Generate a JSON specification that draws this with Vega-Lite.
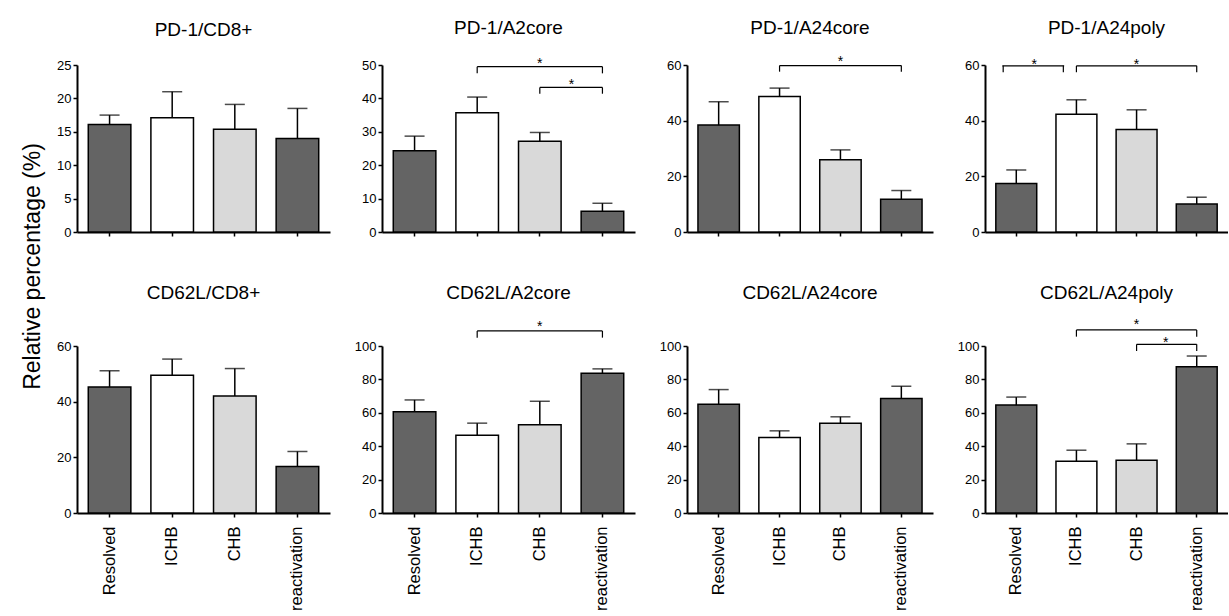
{
  "$schema": "https://vega.github.io/schema/vega-lite/v6.json",
  "autosize": {"type": "pad"},
  "padding": {"left": 20, "top": 18, "right": 0, "bottom": 0},
  "background": "white",
  "datasets": {
    "bars": [
      {"panel": "PD-1/CD8+", "group": "Resolved", "value": 16.1, "upper": 17.5},
      {"panel": "PD-1/CD8+", "group": "ICHB", "value": 17.1, "upper": 21.0},
      {"panel": "PD-1/CD8+", "group": "CHB", "value": 15.4, "upper": 19.1},
      {"panel": "PD-1/CD8+", "group": "reactivation", "value": 14.0, "upper": 18.5},
      {"panel": "PD-1/A2core", "group": "Resolved", "value": 24.3, "upper": 28.7},
      {"panel": "PD-1/A2core", "group": "ICHB", "value": 35.7, "upper": 40.4},
      {"panel": "PD-1/A2core", "group": "CHB", "value": 27.2, "upper": 29.8},
      {"panel": "PD-1/A2core", "group": "reactivation", "value": 6.2, "upper": 8.6},
      {"panel": "PD-1/A24core", "group": "Resolved", "value": 38.4, "upper": 46.8},
      {"panel": "PD-1/A24core", "group": "ICHB", "value": 48.7, "upper": 51.7},
      {"panel": "PD-1/A24core", "group": "CHB", "value": 26.0, "upper": 29.5},
      {"panel": "PD-1/A24core", "group": "reactivation", "value": 11.8, "upper": 14.9},
      {"panel": "PD-1/A24poly", "group": "Resolved", "value": 17.4, "upper": 22.3},
      {"panel": "PD-1/A24poly", "group": "ICHB", "value": 42.3, "upper": 47.5},
      {"panel": "PD-1/A24poly", "group": "CHB", "value": 36.8, "upper": 43.9},
      {"panel": "PD-1/A24poly", "group": "reactivation", "value": 10.1, "upper": 12.5},
      {"panel": "CD62L/CD8+", "group": "Resolved", "value": 45.3, "upper": 51.1},
      {"panel": "CD62L/CD8+", "group": "ICHB", "value": 49.5, "upper": 55.3},
      {"panel": "CD62L/CD8+", "group": "CHB", "value": 42.0, "upper": 51.9},
      {"panel": "CD62L/CD8+", "group": "reactivation", "value": 16.7, "upper": 22.1},
      {"panel": "CD62L/A2core", "group": "Resolved", "value": 60.6, "upper": 67.7},
      {"panel": "CD62L/A2core", "group": "ICHB", "value": 46.6, "upper": 53.8},
      {"panel": "CD62L/A2core", "group": "CHB", "value": 52.8, "upper": 66.9},
      {"panel": "CD62L/A2core", "group": "reactivation", "value": 83.7, "upper": 86.3},
      {"panel": "CD62L/A24core", "group": "Resolved", "value": 65.1, "upper": 73.9},
      {"panel": "CD62L/A24core", "group": "ICHB", "value": 45.2, "upper": 49.2},
      {"panel": "CD62L/A24core", "group": "CHB", "value": 53.8, "upper": 57.6},
      {"panel": "CD62L/A24core", "group": "reactivation", "value": 68.5, "upper": 75.9},
      {"panel": "CD62L/A24poly", "group": "Resolved", "value": 64.6, "upper": 69.4},
      {"panel": "CD62L/A24poly", "group": "ICHB", "value": 31.0, "upper": 37.6},
      {"panel": "CD62L/A24poly", "group": "CHB", "value": 31.6, "upper": 41.4},
      {"panel": "CD62L/A24poly", "group": "reactivation", "value": 87.6, "upper": 94.0}
    ],
    "brackets": [
      {"panel": "PD-1/A2core", "from": "ICHB", "to": "reactivation", "y": 49.5, "ylo": 47.5},
      {"panel": "PD-1/A2core", "from": "CHB", "to": "reactivation", "y": 43.3, "ylo": 41.4},
      {"panel": "PD-1/A24core", "from": "ICHB", "to": "reactivation", "y": 59.8, "ylo": 57.6},
      {"panel": "PD-1/A24poly", "from": "Resolved", "to": "ICHB", "y": 59.7, "ylo": 57.4},
      {"panel": "PD-1/A24poly", "from": "ICHB", "to": "reactivation", "y": 59.7, "ylo": 57.4},
      {"panel": "CD62L/A2core", "from": "ICHB", "to": "reactivation", "y": 109, "ylo": 105},
      {"panel": "CD62L/A24poly", "from": "ICHB", "to": "reactivation", "y": 109.6, "ylo": 105.6},
      {"panel": "CD62L/A24poly", "from": "CHB", "to": "reactivation", "y": 101, "ylo": 97}
    ],
    "stars": [
      {"panel": "PD-1/A2core", "at": "CHB", "y": 51.5, "pos": "c"},
      {"panel": "PD-1/A2core", "at": "reactivation", "y": 45.2, "pos": "l"},
      {"panel": "PD-1/A24core", "at": "CHB", "y": 62.4, "pos": "c"},
      {"panel": "PD-1/A24poly", "at": "Resolved", "y": 61.5, "pos": "r"},
      {"panel": "PD-1/A24poly", "at": "CHB", "y": 61.5, "pos": "c"},
      {"panel": "CD62L/A2core", "at": "CHB", "y": 113.6, "pos": "c"},
      {"panel": "CD62L/A24poly", "at": "CHB", "y": 115, "pos": "c"},
      {"panel": "CD62L/A24poly", "at": "reactivation", "y": 104.4, "pos": "l"}
    ]
  },
  "bounds": "flush",
  "align": "each",
  "columns": 4,
  "spacing": {"row": 114, "column": 52},
  "concat": [
    {
      "width": 253, "height": 167,
      "title": {"text": "PD-1/CD8+", "offset": 19},
      "layer": [
        {"data": {"name": "bars"}, "transform": [{"filter": {"field": "panel", "equal": "PD-1/CD8+"}}],
         "mark": {"type": "bar", "stroke": "#000", "strokeWidth": 1.5},
         "encoding": {
           "x": {"field": "group", "type": "nominal", "scale": {"domain": ["Resolved", "ICHB", "CHB", "reactivation"], "paddingInner": 0.32, "paddingOuter": 0.18}, "axis": {"labels": false, "title": null}},
           "y": {"field": "value", "type": "quantitative", "scale": {"domain": [0, 25], "nice": false}, "axis": {"values": [0, 5, 10, 15, 20, 25], "tickCount": 20, "labelOverlap": false, "title": "Relative percentage (%)", "titleY": 201, "titleX": -33, "titleFontSize": 23, "titleFontWeight": "normal", "titleAlign": "center", "titleBaseline": "bottom", "titleAngle": 270}},
           "fill": {"field": "group", "type": "nominal", "scale": {"domain": ["Resolved", "ICHB", "CHB", "reactivation"], "range": ["#646464", "#ffffff", "#d9d9d9", "#646464"]}, "legend": null}
         }},
        {"data": {"name": "bars"}, "transform": [{"filter": {"field": "panel", "equal": "PD-1/CD8+"}}],
         "mark": {"type": "rule", "color": "#000", "strokeWidth": 1.5},
         "encoding": {"x": {"field": "group", "type": "nominal"}, "y": {"field": "value", "type": "quantitative"}, "y2": {"field": "upper"}}},
        {"data": {"name": "bars"}, "transform": [{"filter": {"field": "panel", "equal": "PD-1/CD8+"}}],
         "mark": {"type": "tick", "orient": "horizontal", "size": 20, "thickness": 1.5, "color": "#000"},
         "encoding": {"x": {"field": "group", "type": "nominal"}, "y": {"field": "upper", "type": "quantitative"}}}
      ]
    },
    {
      "width": 253, "height": 167,
      "title": {"text": "PD-1/A2core", "offset": 19},
      "layer": [
        {"data": {"name": "bars"}, "transform": [{"filter": {"field": "panel", "equal": "PD-1/A2core"}}],
         "mark": {"type": "bar", "stroke": "#000", "strokeWidth": 1.5},
         "encoding": {
           "x": {"field": "group", "type": "nominal", "scale": {"domain": ["Resolved", "ICHB", "CHB", "reactivation"], "paddingInner": 0.32, "paddingOuter": 0.18}, "axis": {"labels": false, "title": null}},
           "y": {"field": "value", "type": "quantitative", "scale": {"domain": [0, 50], "nice": false}, "axis": {"values": [0, 10, 20, 30, 40, 50], "tickCount": 20, "labelOverlap": false, "title": null}},
           "fill": {"field": "group", "type": "nominal", "scale": {"domain": ["Resolved", "ICHB", "CHB", "reactivation"], "range": ["#646464", "#ffffff", "#d9d9d9", "#646464"]}, "legend": null}
         }},
        {"data": {"name": "bars"}, "transform": [{"filter": {"field": "panel", "equal": "PD-1/A2core"}}],
         "mark": {"type": "rule", "color": "#000", "strokeWidth": 1.5},
         "encoding": {"x": {"field": "group", "type": "nominal"}, "y": {"field": "value", "type": "quantitative"}, "y2": {"field": "upper"}}},
        {"data": {"name": "bars"}, "transform": [{"filter": {"field": "panel", "equal": "PD-1/A2core"}}],
         "mark": {"type": "tick", "orient": "horizontal", "size": 20, "thickness": 1.5, "color": "#000"},
         "encoding": {"x": {"field": "group", "type": "nominal"}, "y": {"field": "upper", "type": "quantitative"}}},
        {"data": {"name": "brackets"}, "transform": [{"filter": {"field": "panel", "equal": "PD-1/A2core"}}],
         "mark": {"type": "rule", "color": "#000", "strokeWidth": 1.2},
         "encoding": {"x": {"field": "from", "type": "nominal"}, "x2": {"field": "to"}, "y": {"field": "y", "type": "quantitative"}}},
        {"data": {"name": "brackets"}, "transform": [{"filter": {"field": "panel", "equal": "PD-1/A2core"}}, {"fold": ["from", "to"], "as": ["end", "at"]}],
         "mark": {"type": "rule", "color": "#000", "strokeWidth": 1.2},
         "encoding": {"x": {"field": "at", "type": "nominal"}, "y": {"field": "y", "type": "quantitative"}, "y2": {"field": "ylo"}}},
        {"data": {"name": "stars"}, "transform": [{"filter": {"field": "panel", "equal": "PD-1/A2core"}}, {"filter": {"field": "pos", "equal": "c"}}],
         "mark": {"type": "text", "text": "*", "fontSize": 14, "baseline": "alphabetic", "dy": 8, "color": "#000"},
         "encoding": {"x": {"field": "at", "type": "nominal"}, "y": {"field": "y", "type": "quantitative"}}},
        {"data": {"name": "stars"}, "transform": [{"filter": {"field": "panel", "equal": "PD-1/A2core"}}, {"filter": {"field": "pos", "equal": "l"}}],
         "mark": {"type": "text", "text": "*", "fontSize": 14, "baseline": "alphabetic", "dy": 8, "dx": -31, "color": "#000"},
         "encoding": {"x": {"field": "at", "type": "nominal"}, "y": {"field": "y", "type": "quantitative"}}}
      ]
    },
    {
      "width": 246, "height": 167,
      "title": {"text": "PD-1/A24core", "offset": 17},
      "layer": [
        {"data": {"name": "bars"}, "transform": [{"filter": {"field": "panel", "equal": "PD-1/A24core"}}],
         "mark": {"type": "bar", "stroke": "#000", "strokeWidth": 1.5},
         "encoding": {
           "x": {"field": "group", "type": "nominal", "scale": {"domain": ["Resolved", "ICHB", "CHB", "reactivation"], "paddingInner": 0.32, "paddingOuter": 0.18}, "axis": {"labels": false, "title": null}},
           "y": {"field": "value", "type": "quantitative", "scale": {"domain": [0, 60], "nice": false}, "axis": {"values": [0, 20, 40, 60], "tickCount": 20, "labelOverlap": false, "title": null}},
           "fill": {"field": "group", "type": "nominal", "scale": {"domain": ["Resolved", "ICHB", "CHB", "reactivation"], "range": ["#646464", "#ffffff", "#d9d9d9", "#646464"]}, "legend": null}
         }},
        {"data": {"name": "bars"}, "transform": [{"filter": {"field": "panel", "equal": "PD-1/A24core"}}],
         "mark": {"type": "rule", "color": "#000", "strokeWidth": 1.5},
         "encoding": {"x": {"field": "group", "type": "nominal"}, "y": {"field": "value", "type": "quantitative"}, "y2": {"field": "upper"}}},
        {"data": {"name": "bars"}, "transform": [{"filter": {"field": "panel", "equal": "PD-1/A24core"}}],
         "mark": {"type": "tick", "orient": "horizontal", "size": 20, "thickness": 1.5, "color": "#000"},
         "encoding": {"x": {"field": "group", "type": "nominal"}, "y": {"field": "upper", "type": "quantitative"}}},
        {"data": {"name": "brackets"}, "transform": [{"filter": {"field": "panel", "equal": "PD-1/A24core"}}],
         "mark": {"type": "rule", "color": "#000", "strokeWidth": 1.2},
         "encoding": {"x": {"field": "from", "type": "nominal"}, "x2": {"field": "to"}, "y": {"field": "y", "type": "quantitative"}}},
        {"data": {"name": "brackets"}, "transform": [{"filter": {"field": "panel", "equal": "PD-1/A24core"}}, {"fold": ["from", "to"], "as": ["end", "at"]}],
         "mark": {"type": "rule", "color": "#000", "strokeWidth": 1.2},
         "encoding": {"x": {"field": "at", "type": "nominal"}, "y": {"field": "y", "type": "quantitative"}, "y2": {"field": "ylo"}}},
        {"data": {"name": "stars"}, "transform": [{"filter": {"field": "panel", "equal": "PD-1/A24core"}}, {"filter": {"field": "pos", "equal": "c"}}],
         "mark": {"type": "text", "text": "*", "fontSize": 14, "baseline": "alphabetic", "dy": 8, "color": "#000"},
         "encoding": {"x": {"field": "at", "type": "nominal"}, "y": {"field": "y", "type": "quantitative"}}}
      ]
    },
    {
      "width": 243, "height": 167,
      "title": {"text": "PD-1/A24poly", "offset": 20},
      "layer": [
        {"data": {"name": "bars"}, "transform": [{"filter": {"field": "panel", "equal": "PD-1/A24poly"}}],
         "mark": {"type": "bar", "stroke": "#000", "strokeWidth": 1.5},
         "encoding": {
           "x": {"field": "group", "type": "nominal", "scale": {"domain": ["Resolved", "ICHB", "CHB", "reactivation"], "paddingInner": 0.32, "paddingOuter": 0.18}, "axis": {"labels": false, "title": null}},
           "y": {"field": "value", "type": "quantitative", "scale": {"domain": [0, 60], "nice": false}, "axis": {"values": [0, 20, 40, 60], "tickCount": 20, "labelOverlap": false, "title": null}},
           "fill": {"field": "group", "type": "nominal", "scale": {"domain": ["Resolved", "ICHB", "CHB", "reactivation"], "range": ["#646464", "#ffffff", "#d9d9d9", "#646464"]}, "legend": null}
         }},
        {"data": {"name": "bars"}, "transform": [{"filter": {"field": "panel", "equal": "PD-1/A24poly"}}],
         "mark": {"type": "rule", "color": "#000", "strokeWidth": 1.5},
         "encoding": {"x": {"field": "group", "type": "nominal"}, "y": {"field": "value", "type": "quantitative"}, "y2": {"field": "upper"}}},
        {"data": {"name": "bars"}, "transform": [{"filter": {"field": "panel", "equal": "PD-1/A24poly"}}],
         "mark": {"type": "tick", "orient": "horizontal", "size": 20, "thickness": 1.5, "color": "#000"},
         "encoding": {"x": {"field": "group", "type": "nominal"}, "y": {"field": "upper", "type": "quantitative"}}},
        {"data": {"name": "brackets"}, "transform": [{"filter": "datum.panel == 'PD-1/A24poly' && datum.from == 'ICHB'"}],
         "mark": {"type": "rule", "color": "#000", "strokeWidth": 1.2},
         "encoding": {"x": {"field": "from", "type": "nominal"}, "x2": {"field": "to"}, "y": {"field": "y", "type": "quantitative"}}},
        {"data": {"name": "brackets"}, "transform": [{"filter": "datum.panel == 'PD-1/A24poly' && datum.from == 'ICHB'"}, {"fold": ["from", "to"], "as": ["end", "at"]}],
         "mark": {"type": "rule", "color": "#000", "strokeWidth": 1.2},
         "encoding": {"x": {"field": "at", "type": "nominal"}, "y": {"field": "y", "type": "quantitative"}, "y2": {"field": "ylo"}}},
        {"data": {"name": "brackets"}, "transform": [{"filter": "datum.panel == 'PD-1/A24poly' && datum.from == 'Resolved'"}],
         "mark": {"type": "rule", "color": "#000", "strokeWidth": 1.2},
         "encoding": {"x": {"field": "from", "type": "nominal", "bandPosition": 0.16}, "x2": {"field": "to", "bandPosition": 0.2}, "y": {"field": "y", "type": "quantitative"}}},
        {"data": {"name": "brackets"}, "transform": [{"filter": "datum.panel == 'PD-1/A24poly' && datum.from == 'Resolved'"}, {"fold": ["from", "to"], "as": ["end", "at"]}],
         "mark": {"type": "rule", "color": "#000", "strokeWidth": 1.2},
         "encoding": {"x": {"field": "at", "type": "nominal", "bandPosition": 0.18}, "y": {"field": "y", "type": "quantitative"}, "y2": {"field": "ylo"}}},
        {"data": {"name": "stars"}, "transform": [{"filter": {"field": "panel", "equal": "PD-1/A24poly"}}, {"filter": {"field": "pos", "equal": "c"}}],
         "mark": {"type": "text", "text": "*", "fontSize": 14, "baseline": "alphabetic", "dy": 8, "color": "#000"},
         "encoding": {"x": {"field": "at", "type": "nominal"}, "y": {"field": "y", "type": "quantitative"}}},
        {"data": {"name": "stars"}, "transform": [{"filter": {"field": "panel", "equal": "PD-1/A24poly"}}, {"filter": {"field": "pos", "equal": "r"}}],
         "mark": {"type": "text", "text": "*", "fontSize": 14, "baseline": "alphabetic", "dy": 8, "dx": 18, "color": "#000"},
         "encoding": {"x": {"field": "at", "type": "nominal"}, "y": {"field": "y", "type": "quantitative"}}}
      ]
    },
    {
      "width": 253, "height": 167,
      "title": {"text": "CD62L/CD8+", "offset": 37},
      "layer": [
        {"data": {"name": "bars"}, "transform": [{"filter": {"field": "panel", "equal": "CD62L/CD8+"}}],
         "mark": {"type": "bar", "stroke": "#000", "strokeWidth": 1.5},
         "encoding": {
           "x": {"field": "group", "type": "nominal", "scale": {"domain": ["Resolved", "ICHB", "CHB", "reactivation"], "paddingInner": 0.32, "paddingOuter": 0.18}, "axis": {"title": null}},
           "y": {"field": "value", "type": "quantitative", "scale": {"domain": [0, 60], "nice": false}, "axis": {"values": [0, 20, 40, 60], "tickCount": 20, "labelOverlap": false, "title": null}},
           "fill": {"field": "group", "type": "nominal", "scale": {"domain": ["Resolved", "ICHB", "CHB", "reactivation"], "range": ["#646464", "#ffffff", "#d9d9d9", "#646464"]}, "legend": null}
         }},
        {"data": {"name": "bars"}, "transform": [{"filter": {"field": "panel", "equal": "CD62L/CD8+"}}],
         "mark": {"type": "rule", "color": "#000", "strokeWidth": 1.5},
         "encoding": {"x": {"field": "group", "type": "nominal"}, "y": {"field": "value", "type": "quantitative"}, "y2": {"field": "upper"}}},
        {"data": {"name": "bars"}, "transform": [{"filter": {"field": "panel", "equal": "CD62L/CD8+"}}],
         "mark": {"type": "tick", "orient": "horizontal", "size": 20, "thickness": 1.5, "color": "#000"},
         "encoding": {"x": {"field": "group", "type": "nominal"}, "y": {"field": "upper", "type": "quantitative"}}}
      ]
    },
    {
      "width": 253, "height": 167,
      "title": {"text": "CD62L/A2core", "offset": 17},
      "layer": [
        {"data": {"name": "bars"}, "transform": [{"filter": {"field": "panel", "equal": "CD62L/A2core"}}],
         "mark": {"type": "bar", "stroke": "#000", "strokeWidth": 1.5},
         "encoding": {
           "x": {"field": "group", "type": "nominal", "scale": {"domain": ["Resolved", "ICHB", "CHB", "reactivation"], "paddingInner": 0.32, "paddingOuter": 0.18}, "axis": {"title": null}},
           "y": {"field": "value", "type": "quantitative", "scale": {"domain": [0, 100], "nice": false}, "axis": {"values": [0, 20, 40, 60, 80, 100], "tickCount": 20, "labelOverlap": false, "title": null}},
           "fill": {"field": "group", "type": "nominal", "scale": {"domain": ["Resolved", "ICHB", "CHB", "reactivation"], "range": ["#646464", "#ffffff", "#d9d9d9", "#646464"]}, "legend": null}
         }},
        {"data": {"name": "bars"}, "transform": [{"filter": {"field": "panel", "equal": "CD62L/A2core"}}],
         "mark": {"type": "rule", "color": "#000", "strokeWidth": 1.5},
         "encoding": {"x": {"field": "group", "type": "nominal"}, "y": {"field": "value", "type": "quantitative"}, "y2": {"field": "upper"}}},
        {"data": {"name": "bars"}, "transform": [{"filter": {"field": "panel", "equal": "CD62L/A2core"}}],
         "mark": {"type": "tick", "orient": "horizontal", "size": 20, "thickness": 1.5, "color": "#000"},
         "encoding": {"x": {"field": "group", "type": "nominal"}, "y": {"field": "upper", "type": "quantitative"}}},
        {"data": {"name": "brackets"}, "transform": [{"filter": {"field": "panel", "equal": "CD62L/A2core"}}],
         "mark": {"type": "rule", "color": "#000", "strokeWidth": 1.2},
         "encoding": {"x": {"field": "from", "type": "nominal"}, "x2": {"field": "to"}, "y": {"field": "y", "type": "quantitative"}}},
        {"data": {"name": "brackets"}, "transform": [{"filter": {"field": "panel", "equal": "CD62L/A2core"}}, {"fold": ["from", "to"], "as": ["end", "at"]}],
         "mark": {"type": "rule", "color": "#000", "strokeWidth": 1.2},
         "encoding": {"x": {"field": "at", "type": "nominal"}, "y": {"field": "y", "type": "quantitative"}, "y2": {"field": "ylo"}}},
        {"data": {"name": "stars"}, "transform": [{"filter": {"field": "panel", "equal": "CD62L/A2core"}}, {"filter": {"field": "pos", "equal": "c"}}],
         "mark": {"type": "text", "text": "*", "fontSize": 14, "baseline": "alphabetic", "dy": 8, "color": "#000"},
         "encoding": {"x": {"field": "at", "type": "nominal"}, "y": {"field": "y", "type": "quantitative"}}}
      ]
    },
    {
      "width": 246, "height": 167,
      "title": {"text": "CD62L/A24core", "offset": 37},
      "layer": [
        {"data": {"name": "bars"}, "transform": [{"filter": {"field": "panel", "equal": "CD62L/A24core"}}],
         "mark": {"type": "bar", "stroke": "#000", "strokeWidth": 1.5},
         "encoding": {
           "x": {"field": "group", "type": "nominal", "scale": {"domain": ["Resolved", "ICHB", "CHB", "reactivation"], "paddingInner": 0.32, "paddingOuter": 0.18}, "axis": {"title": null}},
           "y": {"field": "value", "type": "quantitative", "scale": {"domain": [0, 100], "nice": false}, "axis": {"values": [0, 20, 40, 60, 80, 100], "tickCount": 20, "labelOverlap": false, "title": null}},
           "fill": {"field": "group", "type": "nominal", "scale": {"domain": ["Resolved", "ICHB", "CHB", "reactivation"], "range": ["#646464", "#ffffff", "#d9d9d9", "#646464"]}, "legend": null}
         }},
        {"data": {"name": "bars"}, "transform": [{"filter": {"field": "panel", "equal": "CD62L/A24core"}}],
         "mark": {"type": "rule", "color": "#000", "strokeWidth": 1.5},
         "encoding": {"x": {"field": "group", "type": "nominal"}, "y": {"field": "value", "type": "quantitative"}, "y2": {"field": "upper"}}},
        {"data": {"name": "bars"}, "transform": [{"filter": {"field": "panel", "equal": "CD62L/A24core"}}],
         "mark": {"type": "tick", "orient": "horizontal", "size": 20, "thickness": 1.5, "color": "#000"},
         "encoding": {"x": {"field": "group", "type": "nominal"}, "y": {"field": "upper", "type": "quantitative"}}}
      ]
    },
    {
      "width": 243, "height": 167,
      "title": {"text": "CD62L/A24poly", "offset": 15},
      "layer": [
        {"data": {"name": "bars"}, "transform": [{"filter": {"field": "panel", "equal": "CD62L/A24poly"}}],
         "mark": {"type": "bar", "stroke": "#000", "strokeWidth": 1.5},
         "encoding": {
           "x": {"field": "group", "type": "nominal", "scale": {"domain": ["Resolved", "ICHB", "CHB", "reactivation"], "paddingInner": 0.32, "paddingOuter": 0.18}, "axis": {"title": null}},
           "y": {"field": "value", "type": "quantitative", "scale": {"domain": [0, 100], "nice": false}, "axis": {"values": [0, 20, 40, 60, 80, 100], "tickCount": 20, "labelOverlap": false, "title": null}},
           "fill": {"field": "group", "type": "nominal", "scale": {"domain": ["Resolved", "ICHB", "CHB", "reactivation"], "range": ["#646464", "#ffffff", "#d9d9d9", "#646464"]}, "legend": null}
         }},
        {"data": {"name": "bars"}, "transform": [{"filter": {"field": "panel", "equal": "CD62L/A24poly"}}],
         "mark": {"type": "rule", "color": "#000", "strokeWidth": 1.5},
         "encoding": {"x": {"field": "group", "type": "nominal"}, "y": {"field": "value", "type": "quantitative"}, "y2": {"field": "upper"}}},
        {"data": {"name": "bars"}, "transform": [{"filter": {"field": "panel", "equal": "CD62L/A24poly"}}],
         "mark": {"type": "tick", "orient": "horizontal", "size": 20, "thickness": 1.5, "color": "#000"},
         "encoding": {"x": {"field": "group", "type": "nominal"}, "y": {"field": "upper", "type": "quantitative"}}},
        {"data": {"name": "brackets"}, "transform": [{"filter": {"field": "panel", "equal": "CD62L/A24poly"}}],
         "mark": {"type": "rule", "color": "#000", "strokeWidth": 1.2},
         "encoding": {"x": {"field": "from", "type": "nominal"}, "x2": {"field": "to"}, "y": {"field": "y", "type": "quantitative"}}},
        {"data": {"name": "brackets"}, "transform": [{"filter": {"field": "panel", "equal": "CD62L/A24poly"}}, {"fold": ["from", "to"], "as": ["end", "at"]}],
         "mark": {"type": "rule", "color": "#000", "strokeWidth": 1.2},
         "encoding": {"x": {"field": "at", "type": "nominal"}, "y": {"field": "y", "type": "quantitative"}, "y2": {"field": "ylo"}}},
        {"data": {"name": "stars"}, "transform": [{"filter": {"field": "panel", "equal": "CD62L/A24poly"}}, {"filter": {"field": "pos", "equal": "c"}}],
         "mark": {"type": "text", "text": "*", "fontSize": 14, "baseline": "alphabetic", "dy": 8, "color": "#000"},
         "encoding": {"x": {"field": "at", "type": "nominal"}, "y": {"field": "y", "type": "quantitative"}}},
        {"data": {"name": "stars"}, "transform": [{"filter": {"field": "panel", "equal": "CD62L/A24poly"}}, {"filter": {"field": "pos", "equal": "l"}}],
         "mark": {"type": "text", "text": "*", "fontSize": 14, "baseline": "alphabetic", "dy": 8, "dx": -31, "color": "#000"},
         "encoding": {"x": {"field": "at", "type": "nominal"}, "y": {"field": "y", "type": "quantitative"}}}
      ]
    }
  ],
  "config": {
    "font": "Liberation Sans",
    "view": {"stroke": null},
    "axis": {"grid": false, "domainColor": "#000", "domainWidth": 2, "tickColor": "#000", "tickWidth": 1.5, "tickSize": 4, "labelColor": "#000", "labelFontSize": 13, "labelFont": "Liberation Sans", "titleColor": "#000", "titleFont": "Liberation Sans"},
    "axisX": {"labelFontSize": 16.5, "labelAngle": -90, "labelPadding": 9},
    "title": {"fontSize": 19, "fontWeight": "normal", "color": "#000", "frame": "group", "font": "Liberation Sans"}
  }
}
